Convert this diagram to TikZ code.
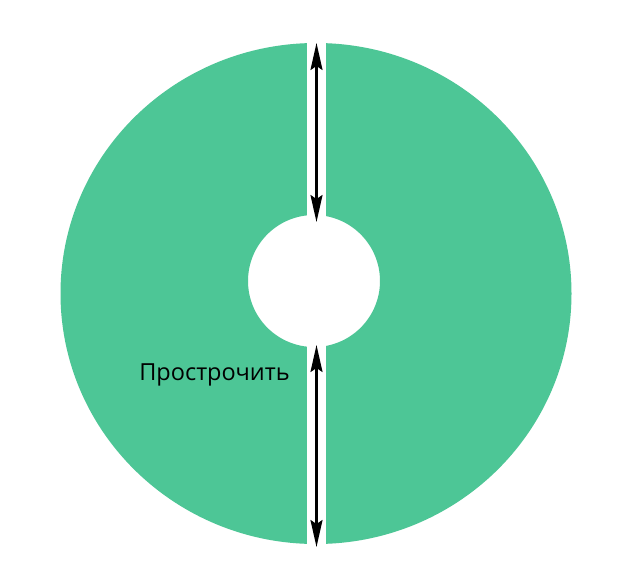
\documentclass[tikz,border=0pt]{standalone}
\usepackage{fontspec}
\setmainfont{Open Sans}
\usetikzlibrary{arrows.meta}
\definecolor{ringgreen}{RGB}{77,198,150}
\tikzset{
  dimarrow/.style={line width=2.2pt, black, {Stealth[length=27pt,width=12pt,inset=4pt]}-{Stealth[length=27pt,width=12pt,inset=4pt]}},
  label/.style={font=\fontsize{23.5}{27}\selectfont, text=black, inner sep=0pt}
}
\begin{document}
\begin{tikzpicture}[x=1pt,y=-1pt]
\useasboundingbox (0,0) rectangle (640,579);
\fill[white] (0,0) rectangle (640,579);
% ring
\fill[ringgreen, even odd rule] (316,293.5) ellipse [x radius=255.5, y radius=250.5]
  (314,281) circle [radius=66];
% cut gap
\fill[white] (306.5,30) rectangle (326,560);
% arrows
\coordinate (a1) at (316.5,43);
\coordinate (a2) at (316.5,222);
\coordinate (b1) at (316.5,345);
\coordinate (b2) at (316.5,547);
\draw[dimarrow] (a1) -- (a2);
\draw[dimarrow] (b1) -- (b2);
\node[label] (txt) at (214.5,375) {Прострочить};
\end{tikzpicture}
\end{document}
